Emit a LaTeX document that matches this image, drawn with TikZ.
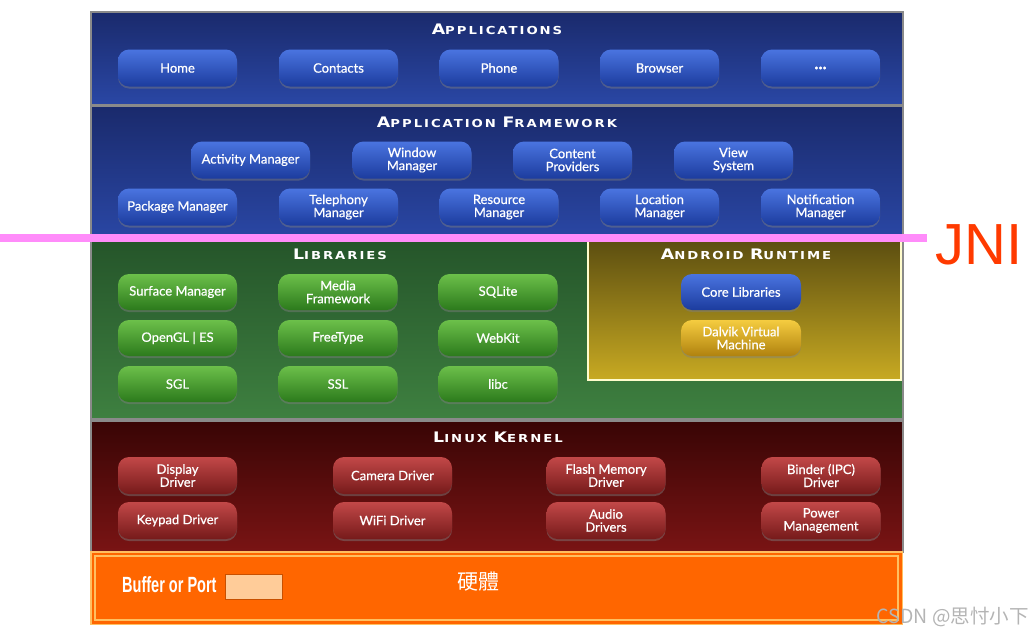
\documentclass[tikz,border=0pt]{standalone}
\usepackage{fontspec}
\setmainfont{Lato}
\newfontfamily\btnfont[FakeBold=0.6]{Lato}
\newfontfamily\titlefont[LetterSpace=18,FakeStretch=1.2]{DejaVu Sans}
\newfontfamily\condfont[FakeStretch=0.66]{Liberation Sans}
\newfontfamily\jnifont{Liberation Sans}
\newfontfamily\cjktc{Noto Sans CJK TC}
\newfontfamily\cjksc{Noto Sans CJK SC}
\usetikzlibrary{shadows}
\definecolor{navyT}{HTML}{1A2A6C}
\definecolor{navyB}{HTML}{2A47A5}
\definecolor{bluebT}{HTML}{4A74E0}
\definecolor{bluebB}{HTML}{1C3C9E}
\definecolor{greenT}{HTML}{25552A}
\definecolor{greenB}{HTML}{3E8040}
\definecolor{grnbT}{HTML}{6CC04A}
\definecolor{grnbB}{HTML}{2C7A1C}
\definecolor{oliveT}{HTML}{5C4E10}
\definecolor{oliveB}{HTML}{C8AA22}
\definecolor{yelbT}{HTML}{F5CC40}
\definecolor{yelbB}{HTML}{B0820E}
\definecolor{kernT}{HTML}{380505}
\definecolor{kernB}{HTML}{7A1414}
\definecolor{redbT}{HTML}{C24848}
\definecolor{redbB}{HTML}{761A1A}
\definecolor{frame}{HTML}{8A8A8A}
\definecolor{hwfill}{HTML}{FF6600}
\definecolor{hwline}{HTML}{FFC060}
\definecolor{portfill}{HTML}{FFCC99}
\definecolor{portline}{HTML}{C85000}
\definecolor{pinkline}{HTML}{FF8CFA}
\definecolor{jnired}{HTML}{FF3A00}
\definecolor{wmgray}{HTML}{B4B4B4}
\newcommand{\BL}[1]{{\fontsize{14.5}{14.5}\selectfont #1}}
\tikzset{
  section/.style={draw=frame, line width=1.5pt},
  btn/.style={rounded corners=11pt, minimum width=119pt, minimum height=37pt,
    inner sep=1pt, align=center, text=white, font=\btnfont\fontsize{13}{13}\selectfont,
    drop shadow={opacity=0.45, shadow xshift=0pt, shadow yshift=-2pt}},
  bluebtn/.style={btn, top color=bluebT, bottom color=bluebB},
  grnbtn/.style={btn, top color=grnbT, bottom color=grnbB, minimum height=36pt},
  yelbtn/.style={btn, top color=yelbT, bottom color=yelbB, minimum height=36pt, minimum width=120pt},
  redbtn/.style={btn, top color=redbT, bottom color=redbB},
  title/.style={text=white, inner sep=0pt, font=\titlefont\bfseries\fontsize{11}{11}\selectfont}
}
\begin{document}
\begin{tikzpicture}[x=1pt,y=-1pt]
\useasboundingbox (0,0) rectangle (1032,635);
% sections
\path[section, top color=navyT, bottom color=navyB] (91,12) rectangle (903,105);
\path[section, top color=navyT, bottom color=navyB] (91,106) rectangle (903,240);
\path[section, top color=greenT, bottom color=greenB] (91,240) rectangle (903,419);
\path[draw=white!80!yellow, line width=1.2pt, top color=oliveT, bottom color=oliveB] (588,241) rectangle (901,380);
\path[section, top color=kernT, bottom color=kernB] (91,421) rectangle (903,552);
% titles
\node[title] (tapp) at (497,29) {\BL{A}PPLICATIONS};
\node[title] (tfw) at (497,122) {\BL{A}PPLICATION \BL{F}RAMEWORK};
\node[title] (tlib) at (340,254) {\BL{L}IBRARIES};
\node[title] (trt) at (746,254) {\BL{A}NDROID \BL{R}UNTIME};
\node[title] (tker) at (498,437) {\BL{L}INUX \BL{K}ERNEL};
% applications
\node[bluebtn] (a1) at (177.5,68) {Home};
\node[bluebtn] (a2) at (338.5,68) {Contacts};
\node[bluebtn] (a3) at (499,68) {Phone};
\node[bluebtn] (a4) at (659.5,68) {Browser};
\node[bluebtn] (a5) at (820.5,68) {\fontsize{17}{17}\selectfont\textbf{...}};
% framework
\node[bluebtn] (f1) at (250.5,160) {Activity Manager};
\node[bluebtn] (f2) at (412,160) {Window\\Manager};
\node[bluebtn] (f3) at (572.5,160) {Content\\Providers};
\node[bluebtn] (f4) at (733.5,160) {View\\System};
\node[bluebtn] (f5) at (177.5,207) {Package Manager};
\node[bluebtn] (f6) at (338.5,207) {Telephony\\Manager};
\node[bluebtn] (f7) at (499,207) {Resource\\Manager};
\node[bluebtn] (f8) at (659.5,207) {Location\\Manager};
\node[bluebtn] (f9) at (820.5,207) {Notification\\Manager};
% libraries
\node[grnbtn] (l1) at (177.5,292) {Surface Manager};
\node[grnbtn] (l2) at (338,292) {Media\\Framework};
\node[grnbtn] (l3) at (498,292) {SQLite};
\node[grnbtn] (l4) at (177.5,338) {OpenGL | ES};
\node[grnbtn] (l5) at (338,338) {FreeType};
\node[grnbtn] (l6) at (498,338) {WebKit};
\node[grnbtn] (l7) at (177.5,384) {SGL};
\node[grnbtn] (l8) at (338,384) {SSL};
\node[grnbtn] (l9) at (498,384) {libc};
% runtime
\node[bluebtn, minimum width=120pt, minimum height=36pt] (r1) at (741,292) {Core Libraries};
\node[yelbtn] (r2) at (741,338) {Dalvik Virtual\\Machine};
% kernel
\node[redbtn] (k1) at (177.5,475.5) {Display\\Driver};
\node[redbtn] (k2) at (392.5,475.5) {Camera Driver};
\node[redbtn] (k3) at (606,475.5) {Flash Memory\\Driver};
\node[redbtn] (k4) at (821,475.5) {Binder (IPC)\\Driver};
\node[redbtn] (k5) at (177.5,520.5) {Keypad Driver};
\node[redbtn] (k6) at (392.5,520.5) {WiFi Driver};
\node[redbtn] (k7) at (606,520.5) {Audio\\Drivers};
\node[redbtn] (k8) at (821,520.5) {Power\\Management};
% hardware
\path[fill=hwfill] (90,551) rectangle (903,625);
\draw[hwline, line width=1.5pt] (90.75,551.75) rectangle (902.25,624.25);
\draw[hwline, line width=1.2pt] (95,556) rectangle (898,620);
\node[text=white, inner sep=0pt, anchor=west] (buf) at (122,585) {\condfont\bfseries\fontsize{22}{22}\selectfont Buffer or Port};
\node[draw=portline, fill=portfill, line width=1.2pt, minimum width=57pt, minimum height=25pt, inner sep=0pt] (port) at (254,587) {};
\node[text=white, inner sep=0pt] (hw) at (478,582) {\cjktc\fontsize{21}{21}\selectfont 硬體};
% JNI line
\coordinate (jl) at (0,238);
\coordinate (jr) at (927,238);
\draw[pinkline, line width=8pt] (jl) -- (jr);
\node[text=jnired, inner sep=0pt] (jni) at (979,245) {\jnifont\fontsize{58}{58}\selectfont JNI};
% watermark
\node[text=wmgray, inner sep=0pt, anchor=east] (wm) at (1029,617) {\cjksc\fontsize{19.5}{19.5}\selectfont CSDN @思忖小下};
\end{tikzpicture}
\end{document}
